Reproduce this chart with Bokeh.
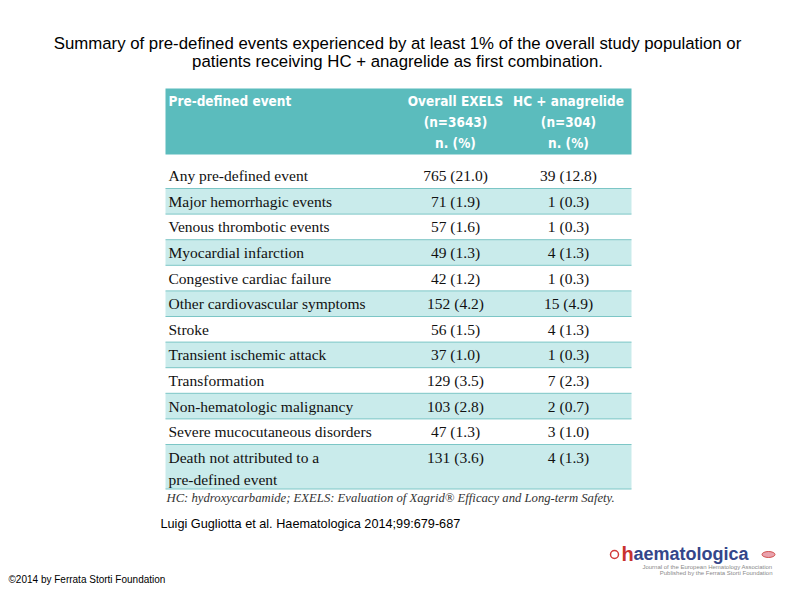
from bokeh.plotting import figure
from bokeh.models import Range1d, ColumnDataSource
from bokeh.core.properties import value
from bokeh.embed import file_html
from bokeh.resources import INLINE

# ---------------- data ----------------
title_lines = ["Summary of pre-defined events experienced by at least 1% of the overall study population or",
               "patients receiving HC + anagrelide as first combination."]
col_headers = ["Pre-defined event", "Overall EXELS\n(n=3643)\nn. (%)", "HC + anagrelide\n(n=304)\nn. (%)"]
events = ["Any pre-defined event", "Major hemorrhagic events", "Venous thrombotic events",
          "Myocardial infarction", "Congestive cardiac failure", "Other cardiovascular symptoms",
          "Stroke", "Transient ischemic attack", "Transformation", "Non-hematologic malignancy",
          "Severe mucocutaneous disorders", "Death not attributed to a\npre-defined event"]
overall_n = [765, 71, 57, 49, 42, 152, 56, 37, 129, 103, 47, 131]
overall_pct = [21.0, 1.9, 1.6, 1.3, 1.2, 4.2, 1.5, 1.0, 3.5, 2.8, 1.3, 3.6]
hc_n = [39, 1, 1, 4, 1, 15, 4, 1, 7, 2, 3, 4]
hc_pct = [12.8, 0.3, 0.3, 1.3, 0.3, 4.9, 1.3, 0.3, 2.3, 0.7, 1.0, 1.3]
footnote = "HC: hydroxycarbamide; EXELS: Evaluation of Xagrid\u00ae Efficacy and Long-term Safety."
citation = "Luigi Gugliotta et al. Haematologica 2014;99:679-687"
copyright_txt = "\u00a92014 by Ferrata Storti Foundation"

# ---------------- figure ----------------
W, H = 794, 595
p = figure(width=W, height=H, x_range=Range1d(0, W), y_range=Range1d(H, 0),
           output_backend="svg", toolbar_location=None, min_border=0)
p.axis.visible = False
p.grid.visible = False
p.outline_line_color = None
p.background_fill_color = "white"
p.border_fill_color = "white"

TEAL = "#5bbcbd"
LIGHT = "#c9ebeb"
LINE = "#7cc6c6"
SERIF = value("Liberation Serif")
NARROW = value("DejaVu Sans Condensed")
SANS = value("Liberation Sans")

# title
p.text(x=[397, 397], y=[43, 61], text=title_lines, text_font=SANS, text_font_size="16.8px",
       text_align="center", text_baseline="middle", text_color="black")

# table geometry
x0, x1 = 165, 631
c1, c2 = 455, 568
hdr_top, hdr_bot = 88, 154
row_top0, pitch = 162.4, 25.6
n = len(events)
tops, bots = [], []
for i in range(n):
    t = row_top0 + pitch * i
    b = t + (pitch if "\n" not in events[i] else 44.5)
    tops.append(t)
    bots.append(b)

# header band
p.quad(left=[x0], right=[x1], top=[hdr_top], bottom=[hdr_bot], fill_color=TEAL, line_color=None)
p.text(x=[168], y=[100], text=[col_headers[0]], text_font=NARROW, text_font_style="bold",
       text_font_size="13.5px", text_color="white", text_baseline="middle")
for cx, hdr in [(c1, col_headers[1]), (c2, col_headers[2])]:
    lines = hdr.split("\n")
    p.text(x=[cx] * len(lines), y=[100 + 21 * k for k in range(len(lines))], text=lines,
           text_font=NARROW, text_font_style="bold", text_font_size="13.5px",
           text_color="white", text_align="center", text_baseline="middle")

# shaded rows
sh = [i for i in range(n) if i % 2 == 1]
p.quad(left=[x0] * len(sh), right=[x1] * len(sh), top=[tops[i] for i in sh],
       bottom=[bots[i] for i in sh], fill_color=LIGHT, line_color=None)
# separators
p.segment(x0=[x0] * n, x1=[x1] * n, y0=bots, y1=bots, line_color=LINE, line_width=1)

# row texts
lab_x, lab_y, lab_t = [], [], []
for i, ev in enumerate(events):
    for k, ln in enumerate(ev.split("\n")):
        lab_x.append(168)
        lab_y.append(tops[i] + 12.8 + 22 * k)
        lab_t.append(ln)
p.text(x=lab_x, y=lab_y, text=lab_t, text_font=SERIF, text_font_size="15.5px",
       text_color="#111111", text_baseline="middle")

vy = [t + 12.8 for t in tops]
src = ColumnDataSource(dict(
    y=vy,
    o=[f"{a} ({b:.1f})" for a, b in zip(overall_n, overall_pct)],
    h=[f"{a} ({b:.1f})" for a, b in zip(hc_n, hc_pct)],
))
p.text(x=c1, y="y", text="o", source=src, text_font=SERIF, text_font_size="15.5px",
       text_color="#111111", text_align="center", text_baseline="middle")
p.text(x=c2, y="y", text="h", source=src, text_font=SERIF, text_font_size="15.5px",
       text_color="#111111", text_align="center", text_baseline="middle")

# footnote
p.text(x=[166], y=[497], text=[footnote], text_font=SERIF, text_font_style="italic",
       text_font_size="12.7px", text_color="#333333", text_baseline="middle")

# citation & copyright
p.text(x=[160], y=[523], text=[citation], text_font=SANS, text_font_size="12.7px",
       text_color="black", text_baseline="middle")
p.text(x=[8], y=[579], text=[copyright_txt], text_font=SANS, text_font_size="10px",
       text_color="black", text_baseline="middle")

# logo
p.circle(x=[614], y=[554], radius=4, fill_color="white", line_color="#d23a3a", line_width=1.5)
p.text(x=[621], y=[553], text=["h"], text_font=SANS, text_font_style="bold",
       text_font_size="20px", text_color="#c8322e", text_baseline="middle")
p.text(x=[633], y=[553], text=["aematologica"], text_font=SANS, text_font_style="bold",
       text_font_size="18px", text_color="#34468a", text_baseline="middle")
p.text(x=[772, 772], y=[566, 572.5],
       text=["Journal of the European Hematology Association", "Published by the Ferrata Storti Foundation"],
       text_font=SANS, text_font_size="6px", text_color="#8a8a8a", text_align="right",
       text_baseline="middle")
p.ellipse(x=[768], y=[554], width=13, height=6, fill_color="#e07a8a", line_color="#c8322e",
          line_width=0.8, fill_alpha=0.7)

open("out.html", "w").write(file_html(p, INLINE))
